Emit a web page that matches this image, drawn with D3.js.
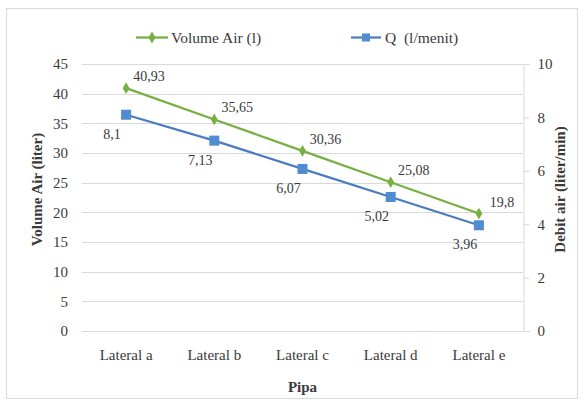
<!DOCTYPE html>
<html>
<head>
<meta charset="utf-8">
<script src="https://cdn.jsdelivr.net/npm/d3@7"></script>
<style>
  body { margin: 0; background: #fff; }
</style>
</head>
<body>
<svg id="chart" width="587" height="407"></svg>
<script>
// Pipe laterals and the measurements taken on each
const categories = ["Lateral a", "Lateral b", "Lateral c", "Lateral d", "Lateral e"];
const volumeValues = [40.93, 35.65, 30.36, 25.08, 19.8];   // liter
const debitValues = [8.1, 7.13, 6.07, 5.02, 3.96];          // liter/min
const leftTicks = [0, 5, 10, 15, 20, 25, 30, 35, 40, 45];
const rightTicks = [0, 2, 4, 6, 8, 10];

const FONT = "Liberation Serif";
const svg = d3.select("#chart");
const plot = { left: 82, right: 523, top: 64, bottom: 331 };
const green = "#76B041", blue = "#4F8DD0", blueLine = "#4A7CC0", ink = "#3a3a3a";
const fmt = v => String(v).replace(".", ",");

// outer frame
svg.append("rect").attr("x", 6.5).attr("y", 8.5).attr("width", 571).attr("height", 390)
  .attr("fill", "#fff").attr("stroke", "#d9d9d9");

const x = d3.scaleBand().domain(categories).range([plot.left, plot.right]);
const yL = d3.scaleLinear().domain([0, 45]).range([plot.bottom, plot.top]);
const yR = d3.scaleLinear().domain([0, 10]).range([plot.bottom, plot.top]);

// horizontal gridlines
svg.append("g").selectAll("line").data(leftTicks).join("line")
  .attr("x1", plot.left).attr("x2", plot.right)
  .attr("y1", d => Math.round(yL(d)) + 0.5).attr("y2", d => Math.round(yL(d)) + 0.5)
  .attr("stroke", "#d9d9d9");

// left axis labels
const axL = svg.append("g").attr("transform", `translate(${plot.left},0)`)
  .call(d3.axisLeft(yL).tickValues(leftTicks).tickSize(0).tickPadding(14));
axL.select(".domain").remove();

// right axis
const axR = svg.append("g").attr("transform", `translate(${plot.right + 0.5},0)`)
  .call(d3.axisRight(yR).tickValues(rightTicks).tickSize(6).tickPadding(8));
axR.select(".domain").attr("stroke", "#d9d9d9");
axR.selectAll(".tick line").attr("stroke", "#d9d9d9");

// category axis labels
const axB = svg.append("g").attr("transform", `translate(0,${plot.bottom})`)
  .call(d3.axisBottom(x).tickSize(0).tickPadding(18));
axB.select(".domain").remove();

const cx = d => x(d) + x.bandwidth() / 2;

// Volume Air line
svg.append("path").datum(volumeValues)
  .attr("d", d3.line().x((d, i) => cx(categories[i])).y(d => yL(d)))
  .attr("fill", "none").attr("stroke", green).attr("stroke-width", 2.25);
svg.append("g").selectAll("path").data(volumeValues).join("path")
  .attr("d", d3.symbol(d3.symbolDiamond, 40))
  .attr("transform", (d, i) => `translate(${cx(categories[i])},${yL(d)})`)
  .attr("fill", green);

// Q line (right axis)
svg.append("path").datum(debitValues)
  .attr("d", d3.line().x((d, i) => cx(categories[i])).y(d => yR(d)))
  .attr("fill", "none").attr("stroke", blueLine).attr("stroke-width", 2.25);
svg.append("g").selectAll("rect").data(debitValues).join("rect")
  .attr("x", (d, i) => cx(categories[i]) - 5).attr("y", d => yR(d) - 5)
  .attr("width", 10).attr("height", 10).attr("fill", blue);

// one typeface for every axis label
svg.selectAll("g").attr("font-family", null).attr("font-size", null);
svg.selectAll("text").attr("font-family", FONT).attr("font-size", 15).attr("fill", ink);

// data labels
const label = sel => sel.attr("text-anchor", "middle").attr("font-family", FONT)
  .attr("font-size", 14).attr("fill", ink);
svg.append("g").selectAll("text").data(volumeValues).join("text")
  .attr("x", (d, i) => cx(categories[i]) + 23).attr("y", d => yL(d) - 7)
  .call(label).text(fmt);
svg.append("g").selectAll("text").data(debitValues).join("text")
  .attr("x", (d, i) => cx(categories[i]) - 14).attr("y", d => yR(d) + 24)
  .call(label).text(fmt);

// axis titles
const title = (t) => svg.append("text").attr("text-anchor", "middle")
  .attr("font-family", FONT).attr("font-size", 15).attr("font-weight", "bold").attr("fill", ink).text(t);
title("Pipa").attr("x", (plot.left + plot.right) / 2).attr("y", 392);
title("Volume Air (liter)").attr("transform", `translate(42,${(plot.top + plot.bottom) / 2 - 8}) rotate(-90)`);
title("Debit air (liter/min)").attr("transform", `translate(565,${(plot.top + plot.bottom) / 2 - 8}) rotate(-90)`);

// legend
const lg = svg.append("g").attr("font-family", FONT).attr("font-size", 15.5).attr("fill", ink);
lg.append("line").attr("x1", 136).attr("x2", 168).attr("y1", 37.5).attr("y2", 37.5).attr("stroke", green).attr("stroke-width", 2.25);
lg.append("path").attr("d", d3.symbol(d3.symbolDiamond, 40)).attr("transform", "translate(152,37.5)").attr("fill", green);
lg.append("text").attr("x", 171).attr("y", 42.5).text("Volume Air (l)");
lg.append("line").attr("x1", 351).attr("x2", 381).attr("y1", 37.5).attr("y2", 37.5).attr("stroke", blueLine).attr("stroke-width", 2.25);
lg.append("rect").attr("x", 362).attr("y", 33.5).attr("width", 8).attr("height", 8).attr("fill", blue);
lg.append("text").attr("x", 385).attr("y", 42.5).text("Q  (l/menit)").attr("xml:space", "preserve").style("white-space", "pre");
</script>
</body>
</html>
